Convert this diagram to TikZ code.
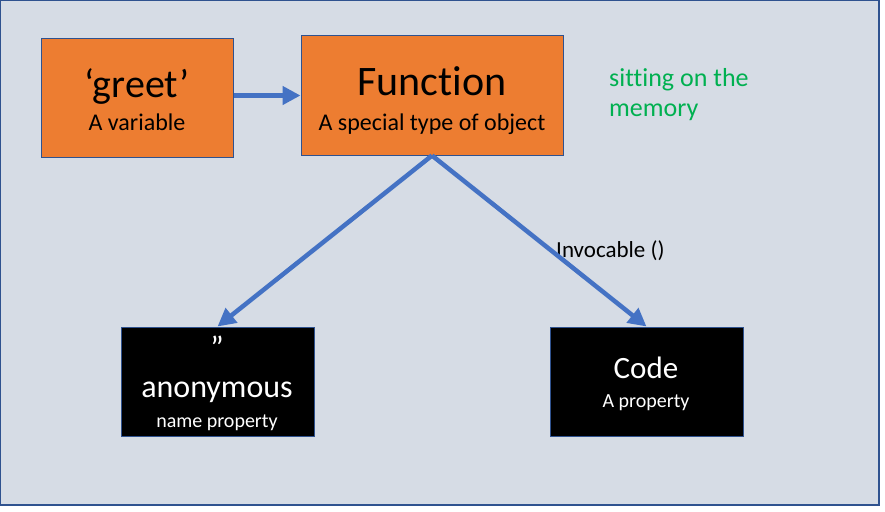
\documentclass[tikz,border=0pt]{standalone}
\usepackage{fontspec}
\setmainfont{Carlito}[Ligatures=NoCommon]
\usetikzlibrary{arrows.meta}
\definecolor{bgc}{HTML}{D6DCE5}
\definecolor{edgec}{HTML}{2F528F}
\definecolor{orng}{HTML}{ED7D31}
\definecolor{arrc}{HTML}{4472C4}
\definecolor{grn}{HTML}{00B050}
\newcommand{\fsz}[1]{\fontsize{#1}{#1}\selectfont}
\begin{document}
\begin{tikzpicture}[x=1pt,y=-1pt,
  obox/.style={draw=edgec,fill=orng,line width=1pt,inner sep=0pt,minimum width=192pt,minimum height=118pt},
  kbox/.style={draw=edgec,fill=black,line width=1pt,inner sep=0pt,minimum width=193pt,minimum height=109pt},
  conn/.style={draw=arrc,line width=4.5pt,-{Triangle[length=18pt,width=18pt]}},
  lbl/.style={anchor=base,inner sep=0pt}]
\useasboundingbox (0,0) rectangle (885,511);
\filldraw[fill=bgc,draw=edgec,line width=1.2pt] (0.6,0.6) rectangle (879,505);
\node[obox] (greet) at (137,98) {};
\node[obox,minimum width=262pt,minimum height=119pt] (func) at (432,95.5) {};
\node[kbox] (anon) at (217.5,381.5) {};
\node[kbox] (code) at (646.5,381.5) {};
\node[lbl] (greett) at (137,97) {\fsz{40}‘greet’};
\node[lbl] (greets) at (137,130) {\fsz{24}A variable};
\node[lbl] (funct) at (432,95) {\fsz{42}Function};
\node[lbl] (funcs) at (432,130) {\fsz{24}A special type of object};
\node[lbl,text=white] (anonq) at (217,358) {\fsz{32}”};
\node[lbl,text=white] (anont) at (217,397) {\fsz{32}anonymous};
\node[lbl,text=white] (anons) at (217,427) {\fsz{20}name property};
\node[lbl,text=white] (codet) at (646,378) {\fsz{31}Code};
\node[lbl,text=white] (codes) at (646,407) {\fsz{20}A property};
\node[lbl,anchor=base west] (invo) at (556,257) {\fsz{23}Invocable ()};
\node[lbl,anchor=base west,align=left,text=grn,font=\fontsize{26}{30}\selectfont] (mem) at (609,116) {sitting on the\\memory};
\draw[conn] (greet.east |- func.west) -- (func.west);
\draw[conn] (func.south) -- (anon.north);
\draw[conn] (func.south) -- (code.north);
\end{tikzpicture}
\end{document}
